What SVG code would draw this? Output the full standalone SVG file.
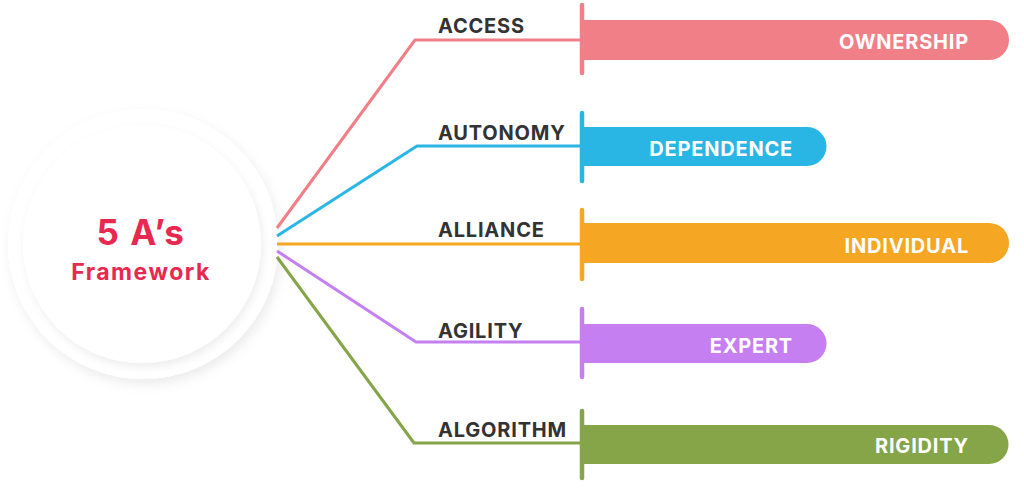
<svg xmlns="http://www.w3.org/2000/svg" width="1024" height="493" viewBox="0 0 1024 493">
<defs>
<filter id="sh" x="-30%" y="-30%" width="160%" height="160%">
<feDropShadow dx="3" dy="5" stdDeviation="6" flood-color="#000" flood-opacity="0.08"/>
</filter>
<filter id="sh2" x="-30%" y="-30%" width="160%" height="160%">
<feDropShadow dx="2" dy="4" stdDeviation="4" flood-color="#000" flood-opacity="0.07"/>
</filter>
</defs>
<style>
.lbl{font-family:Inter,"Liberation Sans",sans-serif;font-weight:700;font-size:20px;letter-spacing:0.8px;fill:#333333}
.bl{font-family:Inter,"Liberation Sans",sans-serif;font-weight:700;font-size:20px;letter-spacing:0.8px;fill:#ffffff;text-anchor:end}
.con{fill:none;stroke-width:3;stroke-linejoin:round}
.tick{stroke-width:4.5;stroke-linecap:round}
.ttl{font-family:Inter,"Liberation Sans",sans-serif;font-weight:700;fill:#e8294f;text-anchor:middle}
</style>
<rect width="1024" height="493" fill="#ffffff"/>
<g id="center">
<circle cx="143" cy="244" r="135" fill="#ffffff" filter="url(#sh)"/>
<circle cx="142" cy="244" r="119" fill="#ffffff" filter="url(#sh2)"/>
<text class="ttl" x="141" y="245" font-size="35" letter-spacing="1.5">5 A’s</text>
<text class="ttl" x="141" y="280" font-size="23" letter-spacing="1.5">Framework</text>
</g>
<g id="connectors">
<polyline class="con" stroke="#f07f87" points="277,228 415,40 582,40"/>
<polyline class="con" stroke="#29b6e4" points="277,236 417,146 582,146"/>
<polyline class="con" stroke="#f5a623" points="277,244 582,244"/>
<polyline class="con" stroke="#c57ff0" points="277,251 416,342 582,342"/>
<polyline class="con" stroke="#85a548" points="277,257 414,443 582,443"/>
</g>
<g id="access">
<text class="lbl" x="438" y="33">ACCESS</text>
<path d="M582,20 H989 A20,20 0 0 1 989,60 H582 Z" fill="#f07f87"/>
<line class="tick" x1="582" y1="5" x2="582" y2="73" stroke="#f07f87"/>
<text class="bl" x="969" y="49">OWNERSHIP</text>
</g>
<g id="autonomy">
<text class="lbl" x="438" y="139.5">AUTONOMY</text>
<path d="M582,127 H807 A19.5,19.5 0 0 1 807,166 H582 Z" fill="#29b6e4"/>
<line class="tick" x1="582" y1="113" x2="582" y2="181" stroke="#29b6e4"/>
<text class="bl" x="793" y="155.5">DEPENDENCE</text>
</g>
<g id="alliance">
<text class="lbl" x="438" y="236.5">ALLIANCE</text>
<path d="M582,223 H989 A20,20 0 0 1 989,263 H582 Z" fill="#f5a623"/>
<line class="tick" x1="582" y1="210" x2="582" y2="279" stroke="#f5a623"/>
<text class="bl" x="969" y="252.5">INDIVIDUAL</text>
</g>
<g id="agility">
<text class="lbl" x="438" y="338">AGILITY</text>
<path d="M582,324 H807 A19.5,19.5 0 0 1 807,363 H582 Z" fill="#c57ff0"/>
<line class="tick" x1="582" y1="309" x2="582" y2="377" stroke="#c57ff0"/>
<text class="bl" x="793" y="353">EXPERT</text>
</g>
<g id="algorithm">
<text class="lbl" x="438" y="437">ALGORITHM</text>
<path d="M582,425 H989 A19.5,19.5 0 0 1 989,464 H582 Z" fill="#85a548"/>
<line class="tick" x1="582" y1="411" x2="582" y2="478" stroke="#85a548"/>
<text class="bl" x="969" y="453">RIGIDITY</text>
</g>
</svg>
